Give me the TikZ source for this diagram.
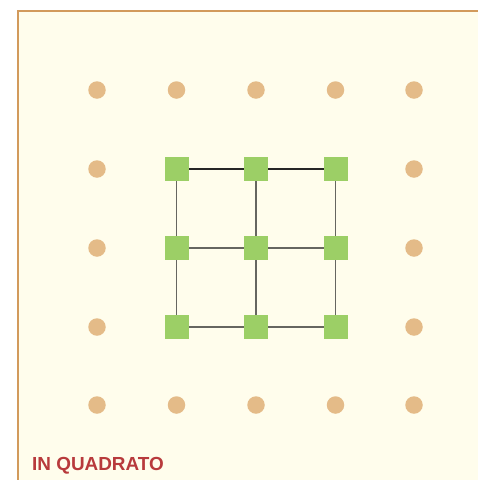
\documentclass[tikz,border=0pt]{standalone}
\usepackage{fontspec}
\setmainfont{Liberation Sans}
\definecolor{bgc}{HTML}{FFFDEC}
\definecolor{brd}{HTML}{D29A5C}
\definecolor{dotc}{HTML}{E4BB88}
\definecolor{sqc}{HTML}{9CCF66}
\definecolor{txtc}{HTML}{B83A3C}
\definecolor{lnc}{HTML}{666660}
\begin{document}
\begin{tikzpicture}[x=1pt,y=-1pt,
  dotn/.style={circle,fill=dotc,minimum size=17.5pt,inner sep=0pt},
  sqn/.style={rectangle,fill=sqc,minimum size=24pt,inner sep=0pt},
  edge/.style={draw=lnc,line width=1.8pt},
  topedge/.style={draw=black!85,line width=1.8pt}]
\useasboundingbox (0,0) rectangle (478,480);
\fill[bgc] (17.5,10.5) rectangle (478,480);
\draw[brd,line width=2pt] (17.5,480) -- (17.5,10.5) -- (478,10.5);
% dots
\foreach \i/\x in {1/97,2/176.5,3/256,4/335.5,5/414}{
  \foreach \j/\y in {1/90,2/169,3/248,4/327,5/405}{
    \node[dotn] (d\i\j) at (\x,\y) {};
  }
}
% edges
\draw[topedge] (d22.center) -- (d32.center) -- (d42.center);
\draw[edge] (d23.center) -- (d33.center) -- (d43.center);
\draw[edge] (d24.center) -- (d34.center) -- (d44.center);
\draw[edge] (d22.center) -- (d23.center) -- (d24.center);
\draw[edge] (d32.center) -- (d33.center) -- (d34.center);
\draw[edge] (d42.center) -- (d43.center) -- (d44.center);
% squares
\foreach \i in {2,3,4}{
  \foreach \j in {2,3,4}{
    \node[sqn] (s\i\j) at (d\i\j) {};
  }
}
\node[anchor=base west,inner sep=0pt,text=txtc,font=\fontsize{18.9}{20}\selectfont\bfseries] (lbl) at (32,470) {IN QUADRATO};
\end{tikzpicture}
\end{document}
